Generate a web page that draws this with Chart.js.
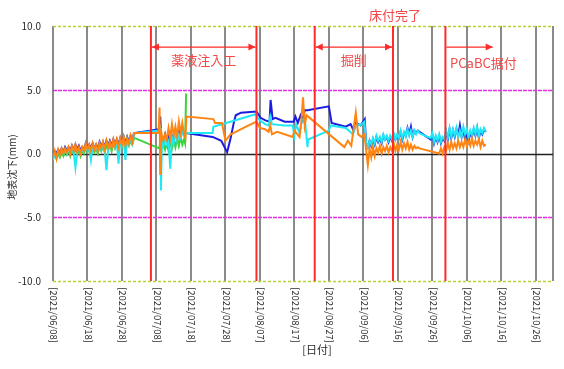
<!DOCTYPE html>
<html>
<head>
<meta charset="utf-8">
<script src="https://cdn.jsdelivr.net/npm/chart.js@4.4.1/dist/chart.umd.min.js"></script>
<style>
  html, body { margin: 0; padding: 0; background: #ffffff; }
  #wrap { width: 564px; height: 369px; }
</style>
</head>
<body>
<div id="wrap"><canvas id="c" width="564" height="369"></canvas></div>
<script>
// Day offsets are counted from 2021/06/08.
const tickDays = [0, 10, 20, 30, 40, 50, 60, 70, 80, 90, 100, 110, 120, 130, 140];
const tickLabels = ['[2021/06/08]', '[2021/06/18]', '[2021/06/28]', '[2021/07/08]', '[2021/07/18]',
  '[2021/07/28]', '[2021/08/07]', '[2021/08/17]', '[2021/08/27]', '[2021/09/06]',
  '[2021/09/16]', '[2021/09/26]', '[2021/10/06]', '[2021/10/16]', '[2021/10/26]'];
const endDay = 145;
const yTicks = [10, 5, 0, -5, -10];
const yTickLabels = ['10.0', '5.0', '0.0', '-5.0', '-10.0'];

// Construction milestones (day offsets) and their captions.
const eventDays = [28.4, 59.0, 75.9, 98.6, 113.8];
const placingEndDay = 127.8;
const eventTexts = ['薬液注入工', '掘削', '床付完了', 'PCaBC据付'];

// Settlement readings (mm)
const earlyDays = [0, 0.5, 1, 1.5, 2, 2.5, 3, 3.5, 4, 4.5, 5, 5.5, 6, 6.5, 7, 7.5, 8, 8.5, 9, 9.5,
  10, 10.5, 11, 11.5, 12, 12.5, 13, 13.5, 14, 14.5, 15, 15.5, 16, 16.5, 17, 17.5, 18, 18.5, 19, 19.5,
  20, 20.5, 21, 21.5, 22, 22.5, 23, 23.5];
const blueEarly = [-0.1, 0.2, 0.0, 0.3, 0.1, 0.4, 0.1, 0.5, 0.2, 0.5, 0.2, 0.6, 0.3, 0.7, 0.3, 0.6,
  0.2, 0.5, 0.3, 0.8, 0.4, 0.7, 0.4, 0.8, 0.4, 0.7, 0.4, 0.9, 0.5, 0.9, 0.5, 1.0, 0.6, 1.0, 0.6, 1.1,
  0.7, 1.1, 0.7, 1.2, 0.8, 1.3, 0.8, 1.3, 0.9, 1.4, 1.0, 1.6];
const orangeEarly = [-0.3, 0.2, -0.4, 0.3, -0.1, 0.4, 0.0, 0.4, 0.1, 0.5, 0.0, 0.6, 0.2, 0.7, 0.1, 0.5,
  0.0, 0.5, 0.2, 0.8, 0.3, 0.7, 0.2, 0.8, 0.3, 0.7, 0.2, 0.8, 0.4, 0.9, 0.3, 1.0, 0.5, 0.9, 0.4, 1.1,
  0.6, 1.1, 0.5, 1.2, 0.7, 1.3, 0.6, 1.2, 0.8, 1.4, 0.9, 1.6];
const cyanEarly = [-0.5, 0.0, -0.3, 0.2, -0.1, 0.3, 0.0, 0.3, 0.0, 0.4, 0.0, 0.4, 0.1, -1.1, 0.1, 0.4,
  0.0, 0.3, 0.1, 0.6, 0.2, 0.5, -0.5, 0.6, 0.3, 0.5, 0.2, 0.7, 0.3, 0.8, 0.3, -1.3, 0.4, 0.8, 0.4, 0.9,
  0.5, 0.9, -0.8, 1.0, 0.6, 1.1, -0.5, 1.1, 0.7, 1.2, 0.8, 1.4];
const greenEarly = [-0.4, -0.1, -0.4, 0.0, -0.3, 0.1, -0.2, 0.2, -0.1, 0.2, -0.2, 0.3, 0.0, 0.4, -0.1, 0.3,
  -0.2, 0.2, 0.0, 0.5, 0.1, 0.4, 0.0, 0.5, 0.1, 0.4, 0.0, 0.5, 0.2, 0.6, 0.1, 0.7, 0.3, 0.6, 0.2, 0.8,
  0.4, 0.7, 0.3, 0.9, 0.5, 0.9, 0.4, 0.9, 0.6, 1.0, 0.7, 1.2];

const blueMidDays = [23.8, 30.8, 31.1, 31.4, 32, 32.5, 33, 33.5, 34, 34.5, 35, 35.5, 36, 36.5, 37, 37.5,
  38, 38.5, 46.3, 48.8, 50.5, 51.5, 52.5, 53, 54.5, 59, 60.2, 61.6, 62.8, 63.1, 63.7, 64.5, 67.2, 69.8,
  70.3, 71, 71.8, 72.4, 73, 73.8, 80, 80.8, 84.9, 86.3, 87, 87.8, 89.2, 90.4];
const blueMidValues = [1.6, 1.9, 2.9, 1.2, 1.0, 1.5, 0.9, 1.3, 0.8, 1.4, 1.1, 1.7, 1.2, 2.0, 1.4, 1.9,
  1.5, 1.6, 1.3, 1.0, 0.1, 1.2, 2.5, 3.0, 3.2, 3.3, 2.8, 2.6, 2.5, 4.2, 2.7, 2.8, 2.5, 2.5,
  2.9, 2.4, 3.0, 2.6, 3.4, 3.4, 3.7, 2.4, 2.1, 2.3, 1.9, 2.4, 2.2, 2.7];

const cyanMidDays = [23.8, 30.8, 31.1, 31.3, 31.6, 32, 32.5, 33, 33.5, 34, 34.5, 35, 35.5, 36, 36.5, 37,
  37.5, 38, 38.5, 46.3, 46.5, 59, 59.3, 60, 61.5, 62.5, 63, 63.5, 67, 69.5, 70, 70.5, 71.5, 72.2, 73,
  73.8, 74, 80, 80.5, 84.9, 87, 88, 89.2, 90.3];
const cyanMidValues = [1.6, 1.8, 2.0, -2.9, 1.0, 0.6, 1.2, 0.7, 1.0, -1.2, 1.3, 0.8, 1.6, 1.0, 1.5, 1.2,
  1.7, 1.4, 1.6, 1.6, 2.1, 3.1, 2.8, 2.6, 2.3, 2.2, 2.9, 2.3, 2.2, 2.2, 1.4, 2.3, 1.6, 2.6, 2.8,
  0.5, 1.1, 1.8, 2.2, 2.0, 1.5, 2.3, 2.2, 2.5];

const orangeMidDays = [23.8, 30.6, 30.9, 31.1, 31.3, 31.6, 32, 32.5, 33, 33.5, 34, 34.5, 35, 35.5, 36,
  36.5, 37, 37.5, 38, 38.4, 38.7, 46.5, 47, 49, 50, 51.5, 53, 56, 59, 60, 61.5, 62.5, 63, 63.5, 65,
  69.5, 70, 71.5, 72, 72.5, 73, 73.5, 84.5, 85.5, 86.5, 87.8, 88.5, 89.5, 90.3];
const orangeMidValues = [1.6, 1.6, 3.6, -1.6, 1.8, 1.4, 1.0, 1.5, 1.1, 2.0, 1.2, 2.3, 1.4, 2.1, 1.3,
  2.5, 1.6, 2.4, 1.5, 1.2, 2.9, 2.7, 2.4, 2.4, 1.0, 1.5, 1.7, 2.1, 2.5, 2.0, 1.9, 1.7, 2.2, 1.5, 1.7,
  1.3, 1.8, 1.3, 2.5, 4.4, 2.2, 3.0, 0.5, 1.0, 0.6, 3.2, 1.5, 1.3, 1.5];

const greenMidDays = [23.8, 30.8, 31.2, 31.6, 32, 32.5, 33, 33.5, 34, 34.5, 35, 35.5, 36, 36.5, 37, 37.5,
  38, 38.3, 38.6];
const greenMidValues = [1.2, 0.4, 1.0, 0.5, 0.9, 0.3, 0.8, 0.2, 0.9, 0.4, 1.1, 0.5, 1.2, 0.6, 1.3, 0.7,
  1.1, 0.8, 4.7];

const lateDaysA = [90.8, 91.3, 91.8, 92.3, 92.8, 93.3, 93.8, 94.3, 94.8, 95.3, 95.8, 96.3, 96.8, 97.3,
  97.8, 98.3, 98.8, 99.3, 99.8, 100.3, 100.8, 101.3, 101.8, 102.3, 102.8, 103.3, 103.8, 104.3, 104.8,
  105.3, 105.8, 106.3];
const lateDaysB = [109.5, 110, 110.5, 111, 111.5, 112, 112.5, 113, 113.5, 114, 114.5, 115, 115.5, 116,
  116.5, 117, 117.5, 118, 118.5, 119, 119.5, 120, 120.5, 121, 121.5, 122, 122.5, 123, 123.5, 124,
  124.5, 125, 125.5];
const orangeLateDaysB = [112, 112.5, 113, 113.5, 114, 114.5, 115, 115.5, 116, 116.5, 117, 117.5, 118,
  118.5, 119, 119.5, 120, 120.5, 121, 121.5, 122, 122.5, 123, 123.5, 124, 124.5, 125, 125.5];

const blueLateA = [0.8, 0.5, 1.0, 0.6, 1.1, 0.7, 1.3, 0.9, 1.2, 0.8, 1.4, 1.1, 1.3, 0.9, 1.3, 1.0,
  1.5, 1.1, 1.4, 1.2, 1.7, 1.1, 1.6, 1.4, 2.0, 1.5, 2.1, 1.3, 1.8, 1.6, 1.8, 1.7];
const blueLateB = [1.1, 1.5, 0.8, 1.3, 0.9, 1.4, 0.8, 1.2, 1.0, 1.7, 1.1, 1.9, 1.2, 1.8, 1.3, 1.9,
  1.4, 2.2, 1.3, 1.9, 1.1, 1.7, 1.0, 1.6, 1.3, 1.9, 1.4, 2.0, 1.2, 1.8, 1.5, 1.9, 1.7];
const cyanLateA = [0.9, 0.5, 1.0, 0.7, 1.2, 0.8, 1.4, 1.0, 1.3, 0.9, 1.5, 1.1, 1.4, 1.0, 1.4, 1.1,
  1.6, 1.1, 1.5, 1.2, 1.8, 1.2, 1.7, 1.3, 1.9, 1.4, 1.8, 1.3, 1.8, 1.5, 1.8, 1.6];
const cyanLateB = [1.2, 1.6, 0.9, 1.4, 1.0, 1.5, 0.9, 1.3, 1.1, 1.8, 1.2, 2.0, 1.3, 1.9, 1.4, 2.0,
  1.2, 1.8, 1.3, 2.1, 1.5, 1.9, 1.2, 1.8, 1.4, 2.0, 1.5, 2.1, 1.3, 1.9, 1.6, 2.0, 1.7];
const orangeLateA = [0.3, -0.9, 0.4, -0.3, 0.5, -0.2, 0.4, 0.1, 0.6, 0.0, 0.5, 0.2, 0.6, 0.1, 0.5, 0.2,
  0.8, 0.2, 0.7, 0.3, 0.9, 0.3, 0.8, 0.4, 0.9, 0.3, 0.7, 0.3, 0.6, 0.4, 0.5, 0.4];
const orangeLateB = [0.0, 0.4, 0.0, 0.5, 0.2, 0.8, 0.3, 0.9, 0.4, 0.8, 0.4, 1.0, 0.5, 0.9, 0.5, 1.1,
  0.6, 1.0, 0.6, 1.2, 0.6, 1.0, 0.7, 1.1, 0.5, 1.0, 0.6, 0.7];

function pairs(days, values) {
  return days.map((d, i) => ({ x: d, y: values[i] }));
}

const blueData = [].concat(pairs(earlyDays, blueEarly), pairs(blueMidDays, blueMidValues),
  pairs(lateDaysA, blueLateA), pairs(lateDaysB, blueLateB));
const cyanData = [].concat(pairs(earlyDays, cyanEarly), pairs(cyanMidDays, cyanMidValues),
  pairs(lateDaysA, cyanLateA), pairs(lateDaysB, cyanLateB));
const orangeData = [].concat(pairs(earlyDays, orangeEarly), pairs(orangeMidDays, orangeMidValues),
  pairs(lateDaysA, orangeLateA), pairs(orangeLateDaysB, orangeLateB));
const greenData = [].concat(pairs(earlyDays, greenEarly), pairs(greenMidDays, greenMidValues));

const TXT = '#2a2a2a';
const RED = '#ff2a2a';
const RED_TXT = '#f24848';
const JP = "'Noto Sans CJK JP', 'Noto Sans', sans-serif";

function arrowHead(ctx, x, y, dir) {
  ctx.beginPath();
  ctx.moveTo(x, y);
  ctx.lineTo(x - dir * 7, y - 3.5);
  ctx.lineTo(x - dir * 7, y + 3.5);
  ctx.closePath();
  ctx.fill();
}

const decorations = {
  id: 'decorations',
  beforeDatasetsDraw(chart) {
    const { ctx, chartArea: a, scales: { x, y } } = chart;
    ctx.save();
    // reference levels
    const levels = [
      { v: 10, color: '#b5d334', dash: [3, 2], w: 1.5 },
      { v: -10, color: '#b5d334', dash: [3, 2], w: 1.5 },
      { v: 5, color: '#e02ee0', dash: [4, 1], w: 1.5 },
      { v: -5, color: '#e02ee0', dash: [4, 1], w: 1.5 },
      { v: 0, color: '#222222', dash: [], w: 1.3 }
    ];
    levels.forEach(l => {
      const py = Math.round(y.getPixelForValue(l.v)) + 0.5;
      ctx.strokeStyle = l.color;
      ctx.lineWidth = l.w;
      ctx.setLineDash(l.dash);
      ctx.beginPath();
      ctx.moveTo(a.left, py);
      ctx.lineTo(a.right, py);
      ctx.stroke();
    });
    ctx.setLineDash([]);

    // y tick labels
    ctx.fillStyle = TXT;
    ctx.font = '10px ' + JP;
    ctx.textAlign = 'right';
    ctx.textBaseline = 'middle';
    yTicks.forEach((v, i) => ctx.fillText(yTickLabels[i], 41, y.getPixelForValue(v)));

    // x tick labels, reading downward
    ctx.font = '9.5px ' + JP;
    ctx.textAlign = 'left';
    tickDays.forEach((d, i) => {
      ctx.save();
      ctx.translate(x.getPixelForValue(d) + 1, a.bottom + 6);
      ctx.rotate(Math.PI / 2);
      ctx.fillText(tickLabels[i], 0, 0);
      ctx.restore();
    });

    // axis titles
    ctx.font = '11px ' + JP;
    ctx.textAlign = 'center';
    ctx.fillText('[日付]', 317, 350);
    ctx.save();
    ctx.translate(12, 167);
    ctx.rotate(-Math.PI / 2);
    ctx.font = '10px ' + JP;
    ctx.fillText('地表沈下(mm)', 0, 0);
    ctx.restore();
    ctx.restore();
  },
  afterDatasetsDraw(chart) {
    const { ctx, chartArea: a, scales: { x, y } } = chart;
    ctx.save();
    ctx.strokeStyle = RED;
    ctx.fillStyle = RED;
    ctx.lineWidth = 2;
    eventDays.forEach(d => {
      const px = x.getPixelForValue(d);
      ctx.beginPath();
      ctx.moveTo(px, a.top);
      ctx.lineTo(px, a.bottom);
      ctx.stroke();
    });

    const ay = y.getPixelForValue(8.35);
    ctx.lineWidth = 1.3;
    const spans = [
      [eventDays[0], eventDays[1], true],
      [eventDays[2], eventDays[3], true],
      [eventDays[4], placingEndDay, false]
    ];
    spans.forEach(([d0, d1, both]) => {
      const x0 = x.getPixelForValue(d0) + 1, x1 = x.getPixelForValue(d1) - 1;
      ctx.beginPath();
      ctx.moveTo(x0, ay);
      ctx.lineTo(x1, ay);
      ctx.stroke();
      arrowHead(ctx, x1, ay, 1);
      if (both) arrowHead(ctx, x0, ay, -1);
    });

    ctx.fillStyle = RED_TXT;
    ctx.font = '13px ' + JP;
    ctx.textAlign = 'center';
    ctx.textBaseline = 'middle';
    const ty = y.getPixelForValue(7.3);
    ctx.fillText(eventTexts[0], (x.getPixelForValue(eventDays[0]) + x.getPixelForValue(eventDays[1])) / 2, ty);
    ctx.fillText(eventTexts[1], (x.getPixelForValue(eventDays[2]) + x.getPixelForValue(eventDays[3])) / 2, ty);
    ctx.fillText(eventTexts[2], x.getPixelForValue(eventDays[3]) + 2, a.top - 11);
    ctx.fillText(eventTexts[3], x.getPixelForValue(eventDays[4]) + 38, y.getPixelForValue(7.1));
    ctx.restore();
  }
};

function line(data, color) {
  return {
    data, borderColor: color, backgroundColor: color, borderWidth: 2,
    pointRadius: 0, tension: 0, fill: false
  };
}

new Chart(document.getElementById('c'), {
  type: 'line',
  data: {
    datasets: [
      line(orangeData, '#ff8412'),
      line(cyanData, '#1ee8f5'),
      line(greenData, '#3ad33a'),
      line(blueData, '#1c1ce0')
    ]
  },
  options: {
    responsive: false,
    animation: false,
    devicePixelRatio: 1,
    layout: { padding: { top: 26, right: 11, left: 0, bottom: 0 } },
    plugins: { legend: { display: false }, tooltip: { enabled: false } },
    scales: {
      x: {
        type: 'linear', min: 0, max: endDay,
        afterBuildTicks: s => { s.ticks = tickDays.concat([endDay]).map(v => ({ value: v })); },
        afterFit: s => { s.height = 88; },
        ticks: { display: false },
        border: { display: false },
        grid: { color: '#8a8a8a', lineWidth: 2, drawTicks: false }
      },
      y: {
        type: 'linear', min: -10, max: 10,
        afterFit: s => { s.width = 53; },
        ticks: { display: false },
        border: { display: false },
        grid: { display: false }
      }
    }
  },
  plugins: [decorations]
});
</script>
</body>
</html>
